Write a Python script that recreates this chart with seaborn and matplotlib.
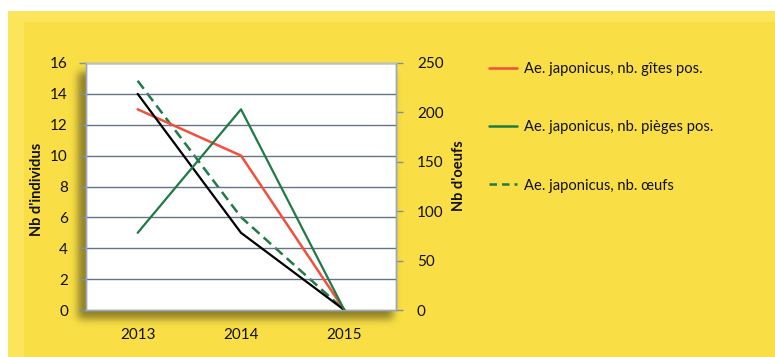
import numpy as np
import pandas as pd
import matplotlib
matplotlib.use("Agg")
import matplotlib.pyplot as plt
from matplotlib.lines import Line2D
from matplotlib.patches import Rectangle
import seaborn as sns

# Survey results per year
years = ["2013", "2014", "2015"]
gites_pos = [13, 10, 0]      # positive breeding sites
pieges_pos = [5, 13, 0]      # positive traps
individus = [14, 5, 0]       # individuals (black line)
oeufs = [232, 94, 0]         # eggs, right axis

legend_labels = [
    "Ae. japonicus, nb. gîtes pos.",
    "Ae. japonicus, nb. pièges pos.",
    "Ae. japonicus, nb. œufs",
]

sns.set_theme(style="white")
plt.rcParams["font.family"] = ["Lato", "DejaVu Sans"]

W, H, DPI = 775, 357, 100
fig = plt.figure(figsize=(W / DPI, H / DPI), dpi=DPI)
fig.patch.set_facecolor("white")

# yellow backdrop: lighter outer band and a slightly deeper inner panel
fig.patches.append(Rectangle((8 / W, 0), 1, 1 - 11 / H, transform=fig.transFigure,
                             facecolor="#FCE55A", edgecolor="none", zorder=-10))
fig.patches.append(Rectangle((24 / W, 0), 1, 1 - 22 / H, transform=fig.transFigure,
                             facecolor="#F9DF45", edgecolor="none", zorder=-9))

# soft drop shadow behind the plot area
yy, xx = np.mgrid[0:H, 0:W]
mask = ((xx >= 78) & (xx <= 392) & (yy >= 72) & (yy <= 318)).astype(float)
k = np.exp(-0.5 * (np.arange(-12, 13) / 4.0) ** 2)
k /= k.sum()
mask = np.apply_along_axis(lambda r: np.convolve(r, k, mode="same"), 1, mask)
mask = np.apply_along_axis(lambda c: np.convolve(c, k, mode="same"), 0, mask)
shadow = np.zeros((H, W, 4))
shadow[..., 0] = 0.42
shadow[..., 1] = 0.38
shadow[..., 2] = 0.12
shadow[..., 3] = mask * 0.75
fig.figimage(shadow[::-1], xo=0, yo=0, origin="lower", zorder=-5)

ax = fig.add_axes([86 / W, 47 / H, 310 / W, 247 / H])
ax2 = ax.twinx()
# white plot face lives on the secondary axes, drawn underneath
ax2.set_zorder(1)
ax2.set_facecolor("white")
ax2.patch.set_visible(True)
ax.set_zorder(3)
ax.patch.set_visible(False)

df = pd.DataFrame({"year": years, "gites": gites_pos, "pieges": pieges_pos,
                   "indiv": individus, "oeufs": oeufs})

red = "#F2503C"
green = "#1F7A45"
text_color = "#111111"

# horizontal gridlines on the left scale
grid_color = "#647486"
for v in range(2, 17, 2):
    ax.axhline(v, color=grid_color, lw=1.0, zorder=0)

sns.lineplot(data=df, x="year", y="indiv", ax=ax, color="black", lw=1.6,
             sort=False, legend=False, zorder=4)
sns.lineplot(data=df, x="year", y="gites", ax=ax, color=red, lw=1.8,
             sort=False, legend=False, zorder=3)
sns.lineplot(data=df, x="year", y="pieges", ax=ax, color=green, lw=1.6,
             sort=False, legend=False, zorder=5)
sns.lineplot(data=df, x="year", y="oeufs", ax=ax2, color=green, lw=1.8,
             sort=False, legend=False)
ax2.lines[-1].set_dashes([4, 2.2])

ax.set_xlim(-0.5, 2.5)
ax.set_ylim(0, 16)
ax2.set_ylim(0, 250)
ax2.set_xlim(-0.5, 2.5)

ax.set_yticks(range(0, 17, 2))
ax2.set_yticks(range(0, 251, 50))
ax.set_xticks(range(len(years)))
ax.set_xticklabels(years)
ax.set_xticks([-0.5, 0.5, 1.5, 2.5], minor=True)

tick_color = "#8090A0"
ax.tick_params(axis="x", which="major", length=0, pad=13, labelsize=11,
               labelcolor=text_color)
ax.tick_params(axis="x", which="minor", length=4, width=1, color=tick_color,
               direction="out")
ax.tick_params(axis="y", length=5, width=1, color=tick_color, direction="out",
               pad=8, labelsize=11, labelcolor=text_color, left=True)
ax2.tick_params(axis="y", length=5, width=1, color=tick_color, direction="out",
                pad=10, labelsize=11, labelcolor=text_color, right=True)

for a in (ax, ax2):
    for s in a.spines.values():
        s.set_color("#9AA8B8")
        s.set_linewidth(1.0)
ax.spines["top"].set_color("#B8C0C8")

ax.set_xlabel("")
ax.set_ylabel("Nb d'individus", fontsize=10.5, fontweight="bold",
              color=text_color)
ax.yaxis.set_label_coords(-0.135, 0.49)
ax2.set_ylabel("Nb d'oeufs", fontsize=10.5, fontweight="bold",
               color=text_color, rotation=90)
ax2.yaxis.set_label_coords(1.18, 0.545)

handles = [
    Line2D([], [], color=red, lw=1.8),
    Line2D([], [], color=green, lw=1.8),
    Line2D([], [], color=green, lw=1.8, dashes=[3, 2]),
]
fig.legend(handles, legend_labels, loc="upper left",
           bbox_to_anchor=(476 / W, 1 - 49 / H), frameon=False,
           fontsize=10.6, handlelength=1.9, handletextpad=0.45,
           labelspacing=3.0, labelcolor=text_color)

fig.savefig("out.png", dpi=DPI)
